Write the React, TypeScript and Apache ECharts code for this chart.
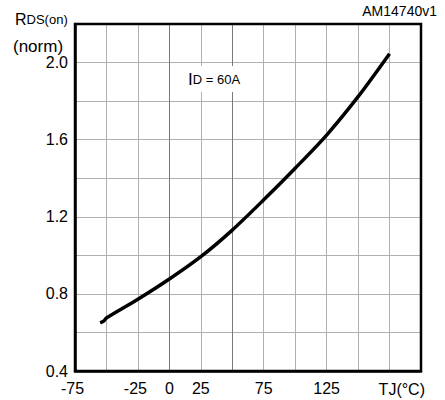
import React, { useEffect, useRef } from "react";
import * as echarts from "echarts";

const temperatures = [-55, -52, -50, -25, 0, 25, 50, 75, 100, 125, 150, 175];
const rdsNorm = [0.65, 0.66, 0.675, 0.772, 0.877, 0.993, 1.131, 1.288, 1.452, 1.624, 1.823, 2.046];
const xTickLabels = [-75, -25, 0, 25, 75, 125];
const yTickLabels = [4, 8, 12, 16, 20];
const darkGridX = [0, 50];

const FONT = "Liberation Sans, Arial, sans-serif";

export default function App() {
  const ref = useRef<HTMLDivElement>(null);
  useEffect(() => {
    if (!ref.current) return;
    const chart = echarts.init(ref.current, undefined, { renderer: "svg" });
    chart.setOption({
      animation: false,
      backgroundColor: "#fff",
      grid: {
        left: 75,
        right: 24,
        top: 24,
        bottom: 29,
        containLabel: false,
        show: true,
        borderColor: "#000",
        borderWidth: 2.5,
        backgroundColor: "transparent",
        z: 10,
      },
      xAxis: {
        type: "value",
        min: -75,
        max: 200,
        interval: 25,
        axisLine: { show: true, onZero: false, lineStyle: { color: "#000", width: 2.5 } },
        axisTick: { show: false },
        axisLabel: {
          color: "#000",
          fontFamily: FONT,
          fontSize: 16,
          margin: 9,
          formatter: (v: number) => {
            const r = Math.round(v);
            if (!xTickLabels.includes(r)) return "";
            return r < 0 ? "{n|" + r + "}" : String(r);
          },
          rich: {
            n: { fontFamily: FONT, fontSize: 16, color: "#000", padding: [0, 5, 0, 0] },
          },
        },
        splitLine: { show: true, lineStyle: { color: "#b0b0b0", width: 1 } },
      },
      yAxis: {
        type: "value",
        min: 0.4,
        max: 2.2,
        interval: 0.2,
        axisLine: { show: true, onZero: false, lineStyle: { color: "#000", width: 2.5 } },
        axisTick: { show: false },
        axisLabel: {
          color: "#000",
          fontFamily: FONT,
          fontSize: 16,
          margin: 7,
          formatter: (v: number) => {
            const k = Math.round(v * 10);
            return yTickLabels.includes(k) ? v.toFixed(1) : "";
          },
        },
        splitLine: { show: true, lineStyle: { color: "#b0b0b0", width: 1 } },
      },
      series: [
        {
          type: "line",
          data: temperatures.map((t, i) => [t, rdsNorm[i]]),
          smooth: 0.3,
          showSymbol: false,
          lineStyle: { color: "#000", width: 3.5 },
          silent: true,
          z: 5,
          markLine: {
            silent: true,
            symbol: "none",
            label: { show: false },
            lineStyle: { color: "#7a7a7a", width: 1, type: "solid" },
            data: darkGridX.map((x) => ({ xAxis: x })),
          },
        },
      ],
      graphic: [
        {
          type: "text",
          x: 15,
          y: 27,
          style: {
            text: "{a|R}{b|DS(on)}",
            verticalAlign: "bottom",
            rich: {
              a: { fontFamily: FONT, fontSize: 16, fill: "#000" },
              b: { fontFamily: FONT, fontSize: 13, fill: "#000" },
            },
          },
        },
        {
          type: "text",
          x: 13,
          y: 46,
          style: { text: "(norm)", fontFamily: FONT, fontSize: 17, fill: "#000", verticalAlign: "middle" },
        },
        {
          type: "text",
          x: 437,
          y: 11,
          style: {
            text: "AM14740v1",
            fontFamily: FONT,
            fontSize: 14,
            fill: "#000",
            align: "right",
            verticalAlign: "middle",
          },
        },
        {
          type: "rect",
          shape: { x: 183, y: 66, width: 66, height: 26 },
          style: { fill: "#fff" },
          z: 20,
          silent: true,
        },
        {
          type: "text",
          x: 188,
          y: 79,
          style: {
            text: "{a|I}{b|D = 60A}",
            verticalAlign: "middle",
            rich: {
              a: { fontFamily: FONT, fontSize: 17, fill: "#000" },
              b: { fontFamily: FONT, fontSize: 13, fill: "#000" },
            },
          },
          z: 21,
        },
        {
          type: "text",
          x: 425,
          y: 389,
          style: {
            text: "TJ(°C)",
            fontFamily: FONT,
            fontSize: 16,
            fill: "#000",
            align: "right",
            verticalAlign: "middle",
          },
        },
      ],
    });
    return () => chart.dispose();
  }, []);
  return <div ref={ref} style={{ width: 445, height: 400, position: "absolute", left: 0, top: 0 }} />;
}
